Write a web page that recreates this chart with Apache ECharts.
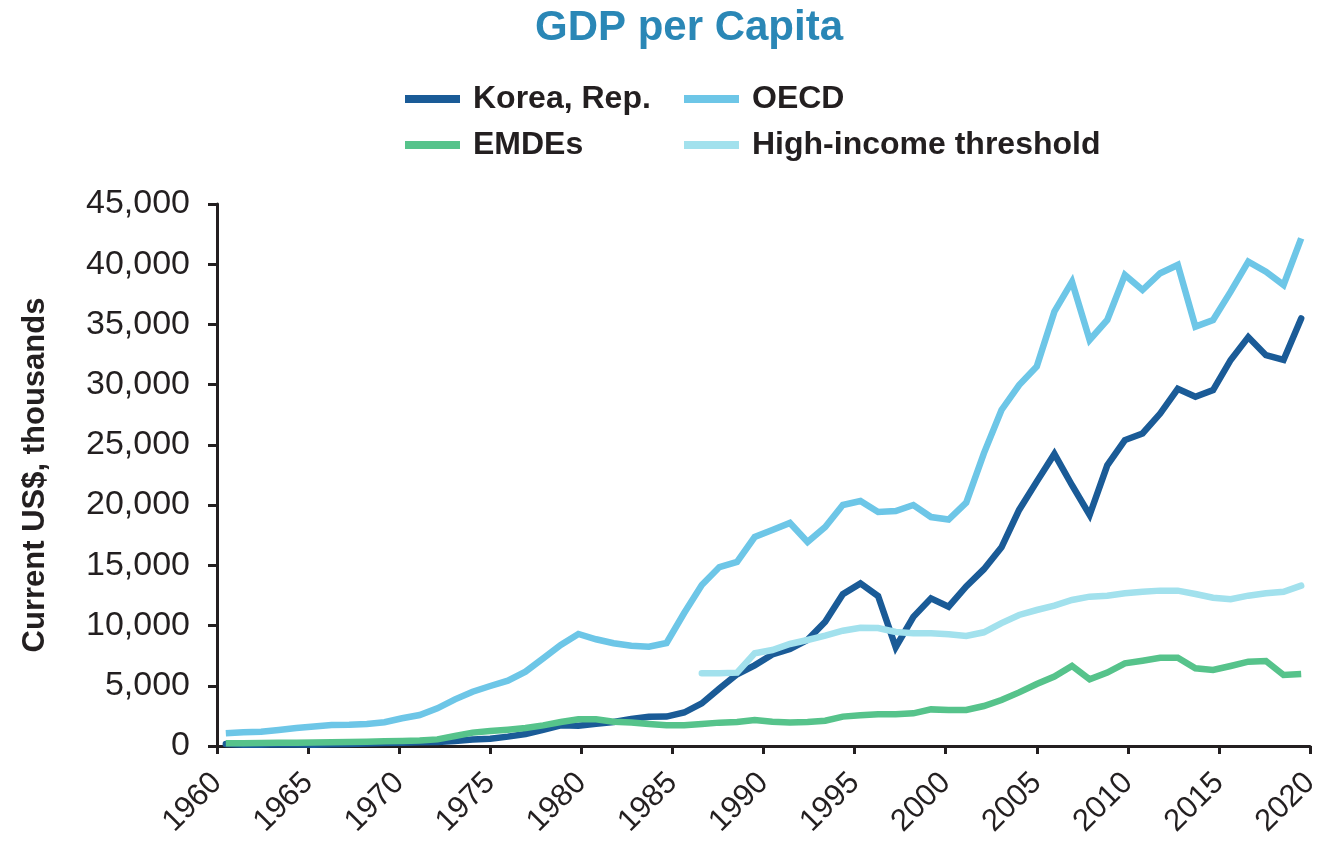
<!DOCTYPE html>
<html>
<head>
<meta charset="utf-8">
<script src="https://cdn.jsdelivr.net/npm/echarts@6/dist/echarts.min.js"></script>
<style>
  html, body { margin: 0; padding: 0; background: #ffffff; }
  #chart { width: 1326px; height: 845px; }
</style>
</head>
<body>
<div id="chart"></div>
<script>
// Years 1960-2021
var years = [];
for (var y = 1960; y <= 2021; y++) { years.push(String(y)); }

var korea = [160, 95, 105, 145, 125, 110, 135, 160, 200, 245,
  280, 310, 330, 410, 530, 600, 780, 1000, 1350, 1720,
  1680, 1850, 2000, 2250, 2420, 2440, 2780, 3540, 4780, 5950,
  6700, 7600, 8050, 8820, 10320, 12600, 13500, 12450, 8200, 10720,
  12260, 11570, 13250, 14680, 16500, 19600, 21950, 24250, 21650, 19180,
  23300, 25400, 25950, 27600, 29650, 29000, 29550, 32050, 33950, 32450,
  32050, 35500];

var oecd = [1050, 1135, 1190, 1330, 1500, 1610, 1745, 1770, 1830, 1970,
  2300, 2575, 3130, 3875, 4510, 4980, 5420, 6170, 7280, 8385,
  9300, 8860, 8530, 8320, 8250, 8550, 11040, 13370, 14860, 15280,
  17350, 17930, 18520, 16940, 18180, 20010, 20340, 19430, 19510, 20010,
  19010, 18800, 20200, 24300, 27900, 29970, 31500, 36060, 38550, 33710,
  35370, 39110, 37860, 39250, 39940, 34820, 35370, 37720, 40210, 39380,
  38280, 42150];

var emdes = [220, 230, 245, 260, 280, 300, 320, 335, 355, 385,
  415, 450, 550, 830, 1110, 1245, 1355, 1495, 1715, 1990,
  2215, 2215, 2020, 1950, 1830, 1715, 1715, 1830, 1940, 2000,
  2160, 2020, 1960, 2000, 2100, 2440, 2550, 2630, 2630, 2710,
  3040, 2990, 2990, 3320, 3820, 4450, 5150, 5760, 6640, 5540,
  6090, 6860, 7080, 7330, 7330, 6450, 6310, 6640, 7000, 7060,
  5900, 5980];

var threshold = [null, null, null, null, null, null, null, null, null, null,
  null, null, null, null, null, null, null, null, null, null,
  null, null, null, null, null, null, null, 6040, 6040, 6090,
  7700, 7970, 8470, 8800, 9160, 9570, 9820, 9800, 9465, 9355,
  9355, 9270, 9130, 9440, 10200, 10880, 11290, 11650, 12120, 12400,
  12480, 12680, 12810, 12900, 12900, 12620, 12310, 12180, 12480, 12680,
  12810, 13310];

var seriesNames = ['Korea, Rep.', 'OECD', 'EMDEs', 'High-income threshold'];
var seriesColors = ['#1A5B97', '#6DC6E7', '#56C38B', '#A2E1ED'];
var tickYears = { min: 1960, max: 2020, step: 5 };
var yTicks = { min: 0, max: 45000, step: 5000 };

var axisColor = '#231F20';
var FONT = '"Liberation Sans", Arial, Helvetica, sans-serif';

function makeSeries(i, data, cap) {
  return {
    name: seriesNames[i],
    type: 'line',
    xAxisIndex: 0,
    data: data,
    symbol: 'none',
    showSymbol: false,
    connectNulls: false,
    itemStyle: { color: seriesColors[i] },
    lineStyle: { color: seriesColors[i], width: 6.5, join: 'miter', cap: cap || 'butt' },
    emphasis: { disabled: true }
  };
}

var legendText = { fontFamily: FONT, fontSize: 32, fontWeight: 'bold', color: axisColor, lineHeight: 32, padding: [0, 0, 0, 8] };

var chart = echarts.init(document.getElementById('chart'), null, { renderer: 'canvas' });
chart.setOption({
  animation: false,
  backgroundColor: '#ffffff',
  title: {
    text: 'GDP per Capita',
    left: 684,
    textAlign: 'center',
    top: 2,
    textStyle: { fontFamily: FONT, fontSize: 42, fontWeight: 'bold', color: '#2A87B6' }
  },
  legend: [
    {
      orient: 'vertical',
      left: 400, top: 78,
      data: [seriesNames[0], seriesNames[2]],
      icon: 'rect', itemWidth: 55, itemHeight: 8, itemGap: 14,
      selectedMode: false,
      textStyle: legendText
    },
    {
      orient: 'vertical',
      left: 679, top: 78,
      data: [seriesNames[1], seriesNames[3]],
      icon: 'rect', itemWidth: 55, itemHeight: 8, itemGap: 14,
      selectedMode: false,
      textStyle: legendText
    }
  ],
  grid: { left: 217, right: 16, top: 204, bottom: 99, containLabel: false, outerBoundsMode: 'none' },
  xAxis: [
    {
      type: 'category',
      data: years,
      boundaryGap: true,
      show: false
    },
    {
      type: 'value',
      position: 'bottom',
      min: tickYears.min, max: tickYears.max, interval: tickYears.step,
      splitLine: { show: false },
      axisLine: { show: true, lineStyle: { color: axisColor, width: 3 } },
      axisTick: { show: true, length: 8, lineStyle: { color: axisColor, width: 3 } },
      axisLabel: {
        rotate: 45, margin: 32,
        fontFamily: FONT, fontSize: 31, color: axisColor,
        showMinLabel: true, showMaxLabel: true,
        formatter: function (v) { return String(v); }
      }
    }
  ],
  yAxis: {
    type: 'value',
    min: yTicks.min, max: yTicks.max, interval: yTicks.step,
    name: 'Current US$, thousands',
    nameLocation: 'middle',
    nameRotate: 90,
    nameGap: 166,
    nameTextStyle: { fontFamily: FONT, fontSize: 31, fontWeight: 'bold', color: axisColor },
    splitLine: { show: false },
    axisLine: { show: true, lineStyle: { color: axisColor, width: 3 } },
    axisTick: { show: true, length: 9, lineStyle: { color: axisColor, width: 3 } },
    axisLabel: {
      margin: 27,
      fontFamily: FONT, fontSize: 34, color: axisColor,
      formatter: function (v) { return v.toLocaleString('en-US'); }
    }
  },
  series: [
    makeSeries(0, korea, 'round'),
    makeSeries(1, oecd),
    makeSeries(2, emdes),
    makeSeries(3, threshold, 'round')
  ]
});
</script>
</body>
</html>
